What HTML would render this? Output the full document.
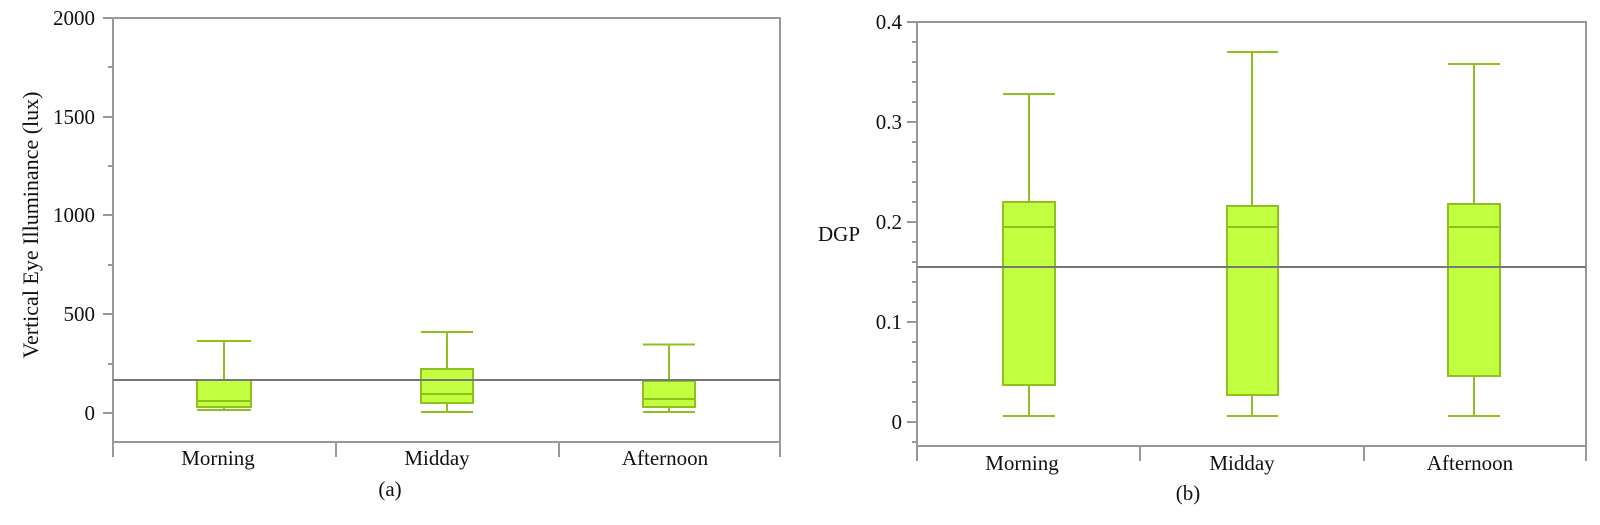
<!DOCTYPE html>
<html><head><meta charset="utf-8"><style>
html,body{margin:0;padding:0;background:#fff;}
svg text{font-family:"Liberation Serif",serif;font-size:21px;fill:#111;}
</style></head><body>
<svg width="1600" height="520" xmlns="http://www.w3.org/2000/svg">
<!-- Left chart -->
<g stroke="#999" stroke-width="2" fill="none">
<path d="M113,18 H780 V442 H113 Z"/>
<path d="M113,442 V457 M336,442 V457 M559,442 V457 M780,442 V457"/>
<path d="M103,18H113 M103,117H113 M103,215H113 M103,314H113 M103,413H113"/>
<path d="M108,67H113 M108,166H113 M108,265H113 M108,364H113"/>
</g>
<g text-anchor="end">
<text x="95" y="25">2000</text><text x="95" y="124">1500</text><text x="95" y="222">1000</text><text x="95" y="321">500</text><text x="95" y="420">0</text>
</g>
<text transform="translate(38,225) rotate(-90)" text-anchor="middle" style="font-size:22px">Vertical Eye Illuminance (lux)</text>
<g text-anchor="middle">
<text x="218" y="465">Morning</text><text x="437" y="465">Midday</text><text x="665" y="465">Afternoon</text>
<text x="390" y="496">(a)</text>
</g>
<g stroke="#90c020" stroke-width="2" fill="#c2ff40">
<path d="M224,341V380 M224,407V410 M197,341H251 M197,410H251" fill="none"/>
<rect x="197" y="380" width="54" height="27"/><path d="M197,401H251"/>
<path d="M447,332V369 M447,403V412 M421,332H473 M421,412H473" fill="none"/>
<rect x="421" y="369" width="52" height="34"/><path d="M421,394H473"/>
<path d="M669,344.5V381 M669,407V412 M643,344.5H695 M643,412H695" fill="none"/>
<rect x="643" y="381" width="52" height="26"/><path d="M643,399H695"/>
</g>
<path d="M113,380H780" stroke="#777" stroke-width="2"/>

<!-- Right chart -->
<g stroke="#999" stroke-width="2" fill="none">
<path d="M917,22 H1586 V446 H917 Z"/>
<path d="M917,446 V461 M1140,446 V461 M1364,446 V461 M1586,446 V461"/>
<path d="M907,22H917 M907,122H917 M907,222H917 M907,322H917 M907,422H917"/>
<path d="M912,42H917 M912,62H917 M912,82H917 M912,102H917 M912,142H917 M912,162H917 M912,182H917 M912,202H917 M912,242H917 M912,262H917 M912,282H917 M912,302H917 M912,342H917 M912,362H917 M912,382H917 M912,402H917 M912,442H917"/>
</g>
<g text-anchor="end">
<text x="902" y="29">0.4</text><text x="902" y="129">0.3</text><text x="902" y="229">0.2</text><text x="902" y="329">0.1</text><text x="902" y="429">0</text>
</g>
<text x="839" y="241" text-anchor="middle">DGP</text>
<g text-anchor="middle">
<text x="1022" y="470">Morning</text><text x="1242" y="470">Midday</text><text x="1470" y="470">Afternoon</text>
<text x="1188" y="500">(b)</text>
</g>
<g stroke="#90c020" stroke-width="2" fill="#c2ff40">
<path d="M1029,94V202 M1029,385V416 M1003,94H1055 M1003,416H1055" fill="none"/>
<rect x="1003" y="202" width="52" height="183"/><path d="M1003,227H1055"/>
<path d="M1252,52V206 M1252,395V416 M1227,52H1278 M1227,416H1278" fill="none"/>
<rect x="1227" y="206" width="51" height="189"/><path d="M1227,227H1278"/>
<path d="M1474,64V204 M1474,376V416 M1448,64H1500 M1448,416H1500" fill="none"/>
<rect x="1448" y="204" width="52" height="172"/><path d="M1448,227H1500"/>
</g>
<path d="M917,267H1586" stroke="#777" stroke-width="2"/>
</svg>
</body></html>
